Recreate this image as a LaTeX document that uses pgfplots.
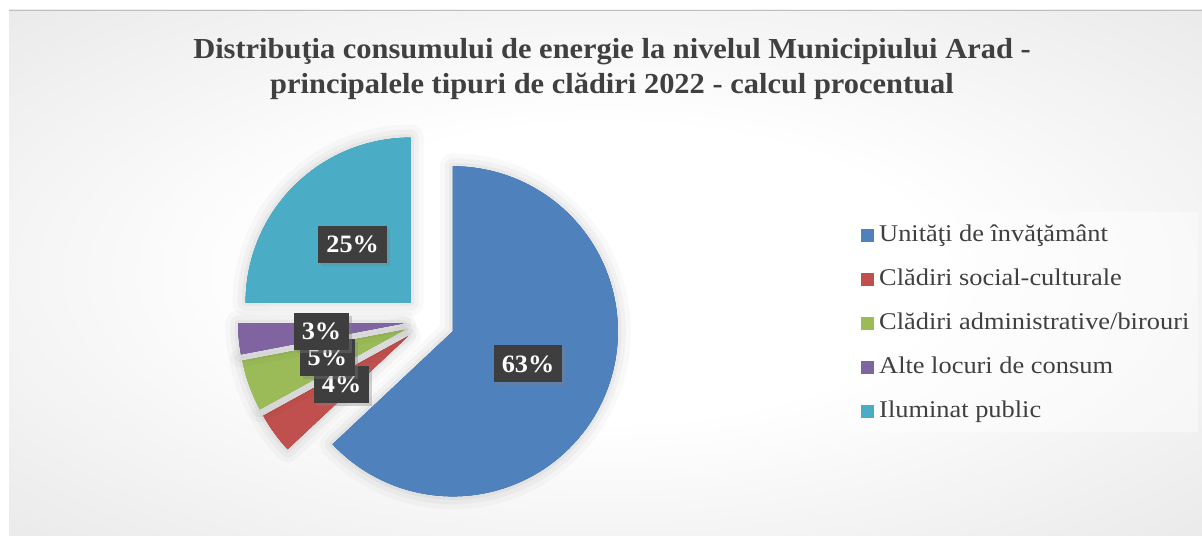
\documentclass[border=0pt]{standalone}
\usepackage{fontspec}
\setmainfont{Liberation Serif}
\newfontfamily\titlefont[FakeStretch=1.05]{Liberation Serif}
\newfontfamily\legfont[FakeStretch=1.1]{Liberation Serif}
\usepackage{pgfplots}
\pgfplotsset{compat=1.18}
\usetikzlibrary{shadows}
\definecolor{cA}{HTML}{4F81BD}
\definecolor{cB}{HTML}{C0504D}
\definecolor{cC}{HTML}{9BBB59}
\definecolor{cD}{HTML}{8064A2}
\definecolor{cE}{HTML}{4BACC6}
\definecolor{txt}{HTML}{404040}
\definecolor{lblbg}{HTML}{3E3E3E}
\definecolor{bgmid}{HTML}{DCDCDC}
\definecolor{bgcorner}{HTML}{C2C2C2}
\pgfdeclareradialshading{bgshade}{\pgfpoint{0bp}{0bp}}{color(0bp)=(white); color(14bp)=(white); color(50bp)=(bgmid); color(71bp)=(bgcorner)}
% pie geometry (pixel units)
\def\cx{429}\def\cy{215}\def\R{165}\def\ex{26}\def\lr{108}
\def\startang{90}
\def\labelnodes{}
\tikzset{lbl/.style={fill=lblbg, text=white, font=\titlefont\bfseries\fontsize{25bp}{28bp}\selectfont,
  inner xsep=8bp, inner ysep=0bp, minimum height=37bp,
  drop shadow={shadow xshift=3bp, shadow yshift=-3bp, opacity=0.35}},
  halo/.style={preaction={draw=black, draw opacity=0.025, line width=26bp, line join=round},
               preaction={draw=black, draw opacity=0.03, line width=16bp, line join=round},
               preaction={draw=black, draw opacity=0.035, line width=7bp, line join=round}}}
\newcommand\pieslice[2]{%
  \pgfmathsetmacro\aA{\startang}%
  \pgfmathsetmacro\aB{\startang-3.6*#1}%
  \pgfmathsetmacro\aM{(\aA+\aB)/2}%
  \pgfmathsetmacro\vx{\cx+\ex*cos(\aM)}%
  \pgfmathsetmacro\vy{\cy+\ex*sin(\aM)}%
  \pgfmathsetmacro\lx{\cx+\lr*cos(\aM)}%
  \pgfmathsetmacro\ly{\cy+\lr*sin(\aM)}%
  \edef\doit{\noexpand\addplot[halo,fill=#2,draw=none,domain=\aB:\aA,samples=150,variable=\noexpand\t] ({\vx+\R*cos(\noexpand\t)},{\vy+\R*sin(\noexpand\t)}) -- (axis cs:\vx,\vy) -- cycle;}%
  \doit
  \xdef\labelnodes{\unexpanded\expandafter{\labelnodes}\noexpand\node[lbl] at (axis cs:\lx,\ly) {#1\noexpand\%};}%
  \xdef\startang{\aB}%
}
\begin{document}
\begin{tikzpicture}
\useasboundingbox (0,0) rectangle (1202bp,536bp);
\fill[white] (0,0) rectangle (1202bp,536bp);
\shade[shading=bgshade] (9bp,0) rectangle (1202bp,526bp);
\draw[black!25, line width=1bp] (9bp,525.5bp) -- (1202bp,525.5bp);
\begin{axis}[at={(0,0)}, anchor=south west, scale only axis, width=1202bp, height=536bp,
  xmin=0, xmax=1202, ymin=0, ymax=536, hide axis, clip=false]
\pieslice{63}{cA}
\pieslice{4}{cB}
\pieslice{5}{cC}
\pieslice{3}{cD}
\pieslice{25}{cE}
\labelnodes
\end{axis}
% title
\node[anchor=base, text=txt, font=\titlefont\bfseries\fontsize{29bp}{32bp}\selectfont] at (612bp,477bp) {Distribuţia consumului de energie la nivelul Municipiului Arad -};
\node[anchor=base, text=txt, font=\titlefont\bfseries\fontsize{29bp}{32bp}\selectfont] at (612bp,442bp) {principalele tipuri de clădiri 2022 - calcul procentual};
% legend
\fill[white, opacity=0.45] (848bp,104bp) rectangle (1198bp,324bp);
\begin{scope}[every node/.style={anchor=base west, text=txt, font=\legfont\fontsize{24bp}{28bp}\selectfont, inner sep=0pt}]
\fill[cA] (861bp,294bp) rectangle (874bp,307bp); \node at (879bp,294bp) {Unităţi de învăţământ};
\fill[cB] (861bp,250bp) rectangle (874bp,263bp); \node at (879bp,250bp) {Clădiri social-culturale};
\fill[cC] (861bp,206bp) rectangle (874bp,219bp); \node at (879bp,206bp) {Clădiri administrative/birouri};
\fill[cD] (861bp,162bp) rectangle (874bp,175bp); \node at (879bp,162bp) {Alte locuri de consum};
\fill[cE] (861bp,118bp) rectangle (874bp,131bp); \node at (879bp,118bp) {Iluminat public};
\end{scope}
\end{tikzpicture}
\end{document}
